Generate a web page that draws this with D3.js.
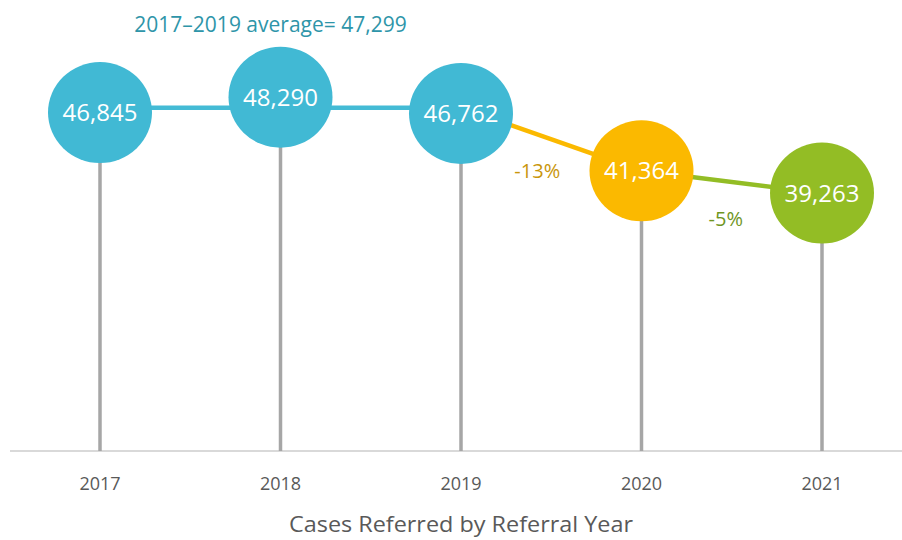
<!DOCTYPE html>
<style>
body { margin: 0; background: #fff; }
text { font-family: "Open Sans", sans-serif; }
</style>
<svg width="902" height="540"></svg>
<script src="https://cdn.jsdelivr.net/npm/d3@7"></script>
<script>

var years = ["2017", "2018", "2019", "2020", "2021"];
var cases = [46845, 48290, 46762, 41364, 39263];
var avgLine = [47299, 47299, 47299, 41364, 39263];   // 2017-2019 average, then actuals
var dotColors = ["#41b9d4", "#41b9d4", "#41b9d4", "#fbb900", "#93bd25"];
var changes = [{from: 2, to: 3, label: "-13%", line: "#fbb900", text: "#c9960b"},
               {from: 3, to: 4, label: "-5%", line: "#93bd25", text: "#6f961f"}];
var avgTitle = "2017\u20132019 average= 47,299";
var axisTitle = "Cases Referred by Referral Year";

var svg = d3.select("svg");

var x = d3.scalePoint()
    .domain(years)
    .range([100, 822]);

// axis floor is not zero, it sits at ~15k
var y = d3.scaleLinear()
    .domain([15000, 50000])
    .range([451, 79]);

var fmt = d3.format(",");

// baseline
svg.append("line")
    .attr("x1", 10).attr("x2", 902)
    .attr("y1", y(15000)).attr("y2", y(15000))
    .attr("stroke", "#d9d9d9")
    .attr("stroke-width", 2);

// stems
svg.append("g")
  .selectAll("line")
  .data(years)
  .enter().append("line")
    .attr("x1", function(d) { return x(d); })
    .attr("x2", function(d) { return x(d); })
    .attr("y1", function(d, i) { return y(cases[i]); })
    .attr("y2", y(15000))
    .attr("stroke", "#a6a6a6")
    .attr("stroke-width", 3.5);

// average line 2017-2019
var line = d3.line()
    .x(function(d) { return x(d.year); })
    .y(function(d) { return y(d.v); });

var pts = years.map(function(d, i) { return {year: d, v: avgLine[i]}; });

svg.append("path")
    .attr("d", line(pts.slice(0, 3)))
    .attr("fill", "none")
    .attr("stroke", "#44bbd5")
    .attr("stroke-width", 4.5);

// change segments
changes.forEach(function(c) {
  svg.append("path")
      .attr("d", line([pts[c.from], pts[c.to]]))
      .attr("fill", "none")
      .attr("stroke", c.line)
      .attr("stroke-width", 4.5);
});

// bubbles
var dots = svg.append("g")
  .selectAll("g")
  .data(years)
  .enter().append("g")
    .attr("transform", function(d, i) { return "translate(" + x(d) + "," + y(cases[i]) + ")"; });

dots.append("ellipse")
    .attr("rx", 52)
    .attr("ry", 50.5)
    .attr("fill", function(d, i) { return dotColors[i]; });

dots.append("text")
    .attr("text-anchor", "middle")
    .attr("dy", "0.35em")
    .attr("fill", "#fff")
    .attr("font-size", 24)
    .text(function(d, i) { return fmt(cases[i]); });

// percent change labels
svg.append("text")
    .attr("x", (x(years[2]) + x(years[3])) / 2 - 14)
    .attr("y", (y(avgLine[2]) + y(avgLine[3])) / 2 + 39)
    .attr("text-anchor", "middle")
    .attr("fill", changes[0].text)
    .attr("font-size", 20)
    .text(changes[0].label);

svg.append("text")
    .attr("x", (x(years[3]) + x(years[4])) / 2 - 6)
    .attr("y", (y(avgLine[3]) + y(avgLine[4])) / 2 + 44)
    .attr("text-anchor", "middle")
    .attr("fill", changes[1].text)
    .attr("font-size", 20)
    .text(changes[1].label);

// average title
svg.append("text")
    .attr("x", x(years[1]) - 10)
    .attr("y", 32)
    .attr("text-anchor", "middle")
    .attr("fill", "#2e95a9")
    .attr("font-size", 21)
    .text(avgTitle);

// year labels
svg.append("g")
  .selectAll("text")
  .data(years)
  .enter().append("text")
    .attr("x", function(d) { return x(d); })
    .attr("y", 490)
    .attr("text-anchor", "middle")
    .attr("fill", "#595959")
    .attr("font-size", 18)
    .text(function(d) { return d; });

svg.append("text")
    .attr("x", 461)
    .attr("y", 532)
    .attr("text-anchor", "middle")
    .attr("fill", "#595959")
    .attr("font-size", 22)
    .attr("textLength", 344)
    .attr("lengthAdjust", "spacingAndGlyphs")
    .text(axisTitle);

</script>
